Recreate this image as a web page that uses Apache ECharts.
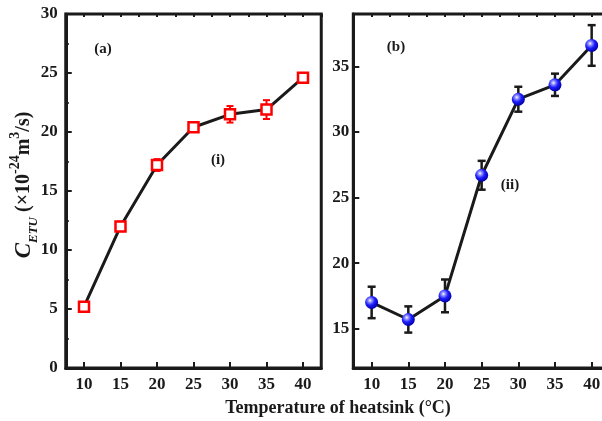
<!DOCTYPE html>
<html>
<head>
<meta charset="utf-8">
<script src="https://cdn.jsdelivr.net/npm/echarts@6/dist/echarts.min.js"></script>
<style>html,body{margin:0;padding:0;background:#fff}#c{width:602px;height:421px}</style>
</head>
<body>
<div id="c"></div>
<script>
var temps = [10, 15, 20, 25, 30, 35, 40];
var cetuA = [5.2, 12.0, 17.2, 20.4, 21.5, 21.9, 24.6];
var errA  = [0.2, 0.4, 0.5, 0.4, 0.7, 0.8, 0.2];
var cetuB = [17.0, 15.7, 17.5, 26.7, 32.5, 33.6, 36.6];
var errB  = [1.2, 1.0, 1.25, 1.1, 0.95, 0.85, 1.55];
var xTickLabels = ['10', '15', '20', '25', '30', '35', '40'];

var FONT = '"Liberation Serif","Times New Roman",serif';
var INK = '#1a1a1a';

function pairs(ys) { return temps.map(function (t, i) { return [t, ys[i]]; }); }
function errData(ys, es) { return temps.map(function (t, i) { return [t, ys[i] - es[i], ys[i] + es[i]]; }); }

function errRender(color, cap, w) {
  return function (params, api) {
    var x = api.value(0);
    var lo = api.coord([x, api.value(1)]);
    var hi = api.coord([x, api.value(2)]);
    var st = { stroke: color, lineWidth: w };
    return {
      type: 'group',
      children: [
        { type: 'line', shape: { x1: lo[0], y1: lo[1], x2: hi[0], y2: hi[1] }, style: st },
        { type: 'line', shape: { x1: lo[0] - cap, y1: lo[1], x2: lo[0] + cap, y2: lo[1] }, style: st },
        { type: 'line', shape: { x1: hi[0] - cap, y1: hi[1], x2: hi[0] + cap, y2: hi[1] }, style: st }
      ]
    };
  };
}

var labelStyle = { color: INK, fontFamily: FONT, fontWeight: 'bold', fontSize: 17 };

function majorX(grid) {
  return {
    type: 'value', gridIndex: grid, min: 7.5, max: 42.5, splitNumber: 7, minInterval: 5, maxInterval: 5,
    axisLine: { show: true, lineStyle: { color: INK, width: 3 } },
    axisTick: { show: true, inside: true, length: 6, lineStyle: { color: INK, width: 2 } },
    axisLabel: Object.assign({ margin: 8, showMinLabel: false, showMaxLabel: false,
      formatter: function (v) { var i = temps.indexOf(Math.round(v * 100) / 100); return i >= 0 ? xTickLabels[i] : ''; } }, labelStyle),
    splitLine: { show: false }
  };
}
function minorX(grid) {
  return {
    type: 'value', gridIndex: grid, min: 7.5, max: 42.5, minInterval: 2.5, maxInterval: 2.5, splitNumber: 14,
    axisLine: { show: false },
    axisTick: { show: true, inside: true, length: 3, lineStyle: { color: INK, width: 2 } },
    axisLabel: { show: false }, splitLine: { show: false }
  };
}

var option = {
  animation: false,
  backgroundColor: '#fff',
  grid: [
    { left: 65.75, top: 14, width: 255.5, height: 354, containLabel: false, outerBoundsMode: 'none', show: true, borderColor: INK, borderWidth: 3, backgroundColor: 'transparent' },
    { left: 353.3, top: 14, width: 256.7, height: 354, containLabel: false, outerBoundsMode: 'none', show: true, borderColor: INK, borderWidth: 3, backgroundColor: 'transparent' }
  ],
  xAxis: [majorX(0), minorX(0), majorX(1), minorX(1)],
  yAxis: [
    {
      type: 'value', gridIndex: 0, min: 0, max: 30, interval: 5,
      axisLine: { show: true, lineStyle: { color: INK, width: 3 } },
      axisTick: { show: true, inside: true, length: 6, lineStyle: { color: INK, width: 2 } },
      minorTick: { show: true, splitNumber: 2, length: 3, lineStyle: { color: INK, width: 2 } },
      axisLabel: Object.assign({ margin: 8 }, labelStyle),
      splitLine: { show: false }, minorSplitLine: { show: false }
    },
    {
      type: 'value', gridIndex: 1, min: 12, max: 39, splitNumber: 5, minInterval: 5, maxInterval: 5,
      axisLine: { show: true, lineStyle: { color: INK, width: 3 } },
      axisTick: { show: true, inside: true, length: 6, lineStyle: { color: INK, width: 2 } },
      axisLabel: Object.assign({ margin: 4, showMinLabel: false, showMaxLabel: false,
        formatter: function (v) { return (Math.abs(v % 5) < 1e-6) ? String(v) : ''; } }, labelStyle),
      splitLine: { show: false }
    },
    {
      type: 'value', gridIndex: 1, min: 12, max: 39, splitNumber: 11, minInterval: 2.5, maxInterval: 2.5,
      axisLine: { show: false },
      axisTick: { show: true, inside: true, length: 3, lineStyle: { color: INK, width: 2 } },
      axisLabel: { show: false }, splitLine: { show: false }
    }
  ],
  series: [
    {
      type: 'custom', xAxisIndex: 0, yAxisIndex: 0, z: 2,
      renderItem: errRender('#ff0000', 3.5, 2), data: errData(cetuA, errA), encode: { x: 0, y: [1, 2] }
    },
    {
      type: 'line', xAxisIndex: 0, yAxisIndex: 0, z: 3, data: pairs(cetuA),
      lineStyle: { color: INK, width: 3 },
      symbol: 'rect', symbolSize: 10,
      itemStyle: { color: '#ffffff', borderColor: '#ff0000', borderWidth: 2.5 }
    },
    {
      type: 'custom', xAxisIndex: 2, yAxisIndex: 1, z: 2,
      renderItem: errRender(INK, 4, 2.5), data: errData(cetuB, errB), encode: { x: 0, y: [1, 2] }
    },
    {
      type: 'line', xAxisIndex: 2, yAxisIndex: 1, z: 3, data: pairs(cetuB),
      lineStyle: { color: INK, width: 3 },
      symbol: 'circle', symbolSize: 13,
      itemStyle: {
        color: { type: 'radial', x: 0.38, y: 0.35, r: 0.65, colorStops: [
          { offset: 0, color: '#ffffff' }, { offset: 0.2, color: '#9a9aff' },
          { offset: 0.55, color: '#1e1eff' }, { offset: 1, color: '#0000a8' } ] },
        borderWidth: 0
      }
    }
  ],
  graphic: [
    { type: 'text', x: 103, y: 49, style: { text: '(a)', font: 'bold 15px ' + FONT, fill: INK, align: 'center', verticalAlign: 'middle', textAlign: 'center', textVerticalAlign: 'middle' } },
    { type: 'text', x: 218, y: 160, style: { text: '(i)', font: 'bold 15px ' + FONT, fill: INK, align: 'center', verticalAlign: 'middle', textAlign: 'center', textVerticalAlign: 'middle' } },
    { type: 'text', x: 396, y: 47, style: { text: '(b)', font: 'bold 15px ' + FONT, fill: INK, align: 'center', verticalAlign: 'middle', textAlign: 'center', textVerticalAlign: 'middle' } },
    { type: 'text', x: 510, y: 185, style: { text: '(ii)', font: 'bold 15px ' + FONT, fill: INK, align: 'center', verticalAlign: 'middle', textAlign: 'center', textVerticalAlign: 'middle' } },
    { type: 'text', x: 338, y: 408, style: { text: 'Temperature of heatsink (°C)', font: 'bold 18px ' + FONT, fill: INK, align: 'center', verticalAlign: 'middle', textAlign: 'center', textVerticalAlign: 'middle' } },
    {
      type: 'text', x: 24, y: 185, rotation: Math.PI / 2,
      style: {
        text: '{c|C}{s|ETU}{n| (×10}{p|-24}{n|m}{p|3}{n|/s)}',
        align: 'center', verticalAlign: 'middle', textAlign: 'center', textVerticalAlign: 'middle',
        fill: INK,
        rich: {
          c: { fontFamily: FONT, fontWeight: 'bold', fontStyle: 'italic', fontSize: 23, lineHeight: 32, verticalAlign: 'middle', color: INK },
          s: { fontFamily: FONT, fontWeight: 'bold', fontStyle: 'italic', fontSize: 13, lineHeight: 13, verticalAlign: 'bottom', color: INK },
          n: { fontFamily: FONT, fontWeight: 'bold', fontSize: 20, lineHeight: 32, verticalAlign: 'middle', color: INK },
          p: { fontFamily: FONT, fontWeight: 'bold', fontSize: 14, lineHeight: 14, verticalAlign: 'top', color: INK }
        }
      }
    }
  ]
};

var chart = echarts.init(document.getElementById('c'), null, { renderer: 'canvas' });
chart.setOption(option);
</script>
</body>
</html>
